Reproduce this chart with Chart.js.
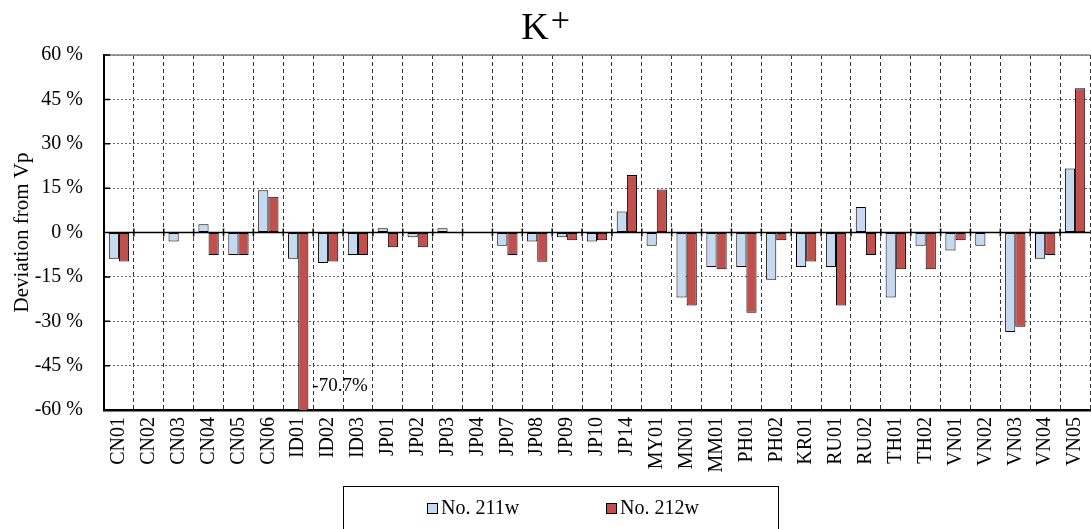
<!DOCTYPE html>
<html>
<head>
<meta charset="utf-8">
<script src="https://cdn.jsdelivr.net/npm/chart.js@4.4.0/dist/chart.umd.min.js"></script>
<style>
    html, body { margin: 0; padding: 0; background: #ffffff; }
    #wrap { width: 1091px; height: 529px; }
</style>
</head>
<body>
<div id="wrap"><canvas id="myChart"></canvas></div>
<script>
//******************************DATA*************************************** */

var categories = ['CN01', 'CN02', 'CN03', 'CN04', 'CN05', 'CN06', 'ID01', 'ID02', 'ID03',
    'JP01', 'JP02', 'JP03', 'JP04', 'JP07', 'JP08', 'JP09', 'JP10', 'JP14',
    'MY01', 'MN01', 'MM01', 'PH01', 'PH02', 'KR01', 'RU01', 'RU02', 'TH01', 'TH02',
    'VN01', 'VN02', 'VN03', 'VN04', 'VN05'];

var no211w = [-8.9, null, -3.0, 2.8, -7.6, 14.3, -8.9, -10.3, -7.6,
    1.4, -1.6, 1.4, null, -4.5, -3.0, -1.6, -3.0, 7.1,
    -4.5, -22.0, -11.7, -11.7, -16.0, -11.7, -11.7, 8.6, -22.0, -4.5,
    -6.1, -4.5, -33.6, -8.9, 21.6];

var no212w = [-9.8, null, null, -7.6, -7.6, 12.1, -70.7, -9.8, -7.6,
    -5.0, -5.0, null, null, -7.6, -9.9, -2.6, -2.6, 19.4,
    14.5, -24.7, -12.4, -27.1, -2.6, -9.8, -24.7, -7.6, -12.4, -12.4,
    -2.6, null, -31.9, -7.6, 48.8];

var yTicks = [-60, -45, -30, -15, 0, 15, 30, 45, 60];

var seriesNames = ['No. 211w', 'No. 212w'];
var seriesColors = ['#c6d9f1', '#c0504d'];
var titleText = ['K', '+'];

var serif = "'Liberation Serif', 'Times New Roman', serif";

///*********************************PLUGINS*********************************** */

// title K with a raised plus
var titlePlugin = {
    id: 'ionTitle',
    afterDraw: function (chart) {
        var ctx = chart.ctx;
        ctx.save();
        ctx.fillStyle = '#000';
        ctx.textBaseline = 'alphabetic';
        ctx.textAlign = 'left';
        ctx.font = '38px ' + serif;
        var wK = ctx.measureText(titleText[0]).width;
        ctx.font = '34px ' + serif;
        var wP = ctx.measureText(titleText[1]).width;
        var x0 = chart.width / 2 - (wK + wP + 2) / 2;
        ctx.font = '38px ' + serif;
        ctx.fillText(titleText[0], x0, 39);
        ctx.font = '34px ' + serif;
        ctx.fillText(titleText[1], x0 + wK + 2, 31);
        ctx.restore();
    }
};

// zero line, small tick marks, top edge and the label of the clipped bar
var framePlugin = {
    id: 'frame',
    afterDatasetsDraw: function (chart) {
        var ctx = chart.ctx;
        var a = chart.chartArea;
        var y = chart.scales.y;
        var y0 = y.getPixelForValue(0);
        var n = categories.length;

        ctx.save();
        ctx.strokeStyle = '#808080';
        ctx.lineWidth = 1.5;
        ctx.beginPath();
        ctx.moveTo(a.left, a.top);
        ctx.lineTo(a.right, a.top);
        ctx.stroke();

        ctx.strokeStyle = '#000';
        ctx.lineWidth = 1.5;
        ctx.beginPath();
        ctx.moveTo(a.left, y0);
        ctx.lineTo(a.right, y0);
        for (var i = 1; i < n; i++) {
            var px = a.left + (a.right - a.left) * i / n;
            ctx.moveTo(px, y0 - 4);
            ctx.lineTo(px, y0 + 4);
        }
        yTicks.forEach(function (v) {
            var py = y.getPixelForValue(v);
            ctx.moveTo(a.left, py);
            ctx.lineTo(a.left + 6, py);
        });
        ctx.stroke();

        // values below the axis minimum get written next to the bar
        ctx.fillStyle = '#000';
        ctx.font = '19px ' + serif;
        ctx.textAlign = 'left';
        ctx.textBaseline = 'middle';
        chart.data.datasets.forEach(function (ds, d) {
            var meta = chart.getDatasetMeta(d);
            ds.data.forEach(function (v, i) {
                if (v !== null && v < y.min) {
                    var bar = meta.data[i];
                    ctx.fillText(v.toFixed(1) + '%', bar.x + bar.width / 2 + 4, a.bottom - 24);
                }
            });
        });
        ctx.restore();
    }
};

// boxed legend under the axis
var legendPlugin = {
    id: 'boxLegend',
    afterDraw: function (chart) {
        var ctx = chart.ctx;
        var left = 343, top = 486, right = 778;
        var offsets = [84, 263];
        ctx.save();
        ctx.strokeStyle = '#000';
        ctx.lineWidth = 1;
        ctx.strokeRect(left + 0.5, top + 0.5, right - left, 60);
        ctx.font = '20px ' + serif;
        ctx.textBaseline = 'middle';
        ctx.textAlign = 'left';
        chart.data.datasets.forEach(function (ds, d) {
            var bx = left + offsets[d];
            ctx.fillStyle = ds.backgroundColor;
            ctx.fillRect(bx, 503, 10, 10);
            ctx.strokeStyle = '#000';
            ctx.strokeRect(bx + 0.5, 503.5, 10, 10);
            ctx.fillStyle = '#000';
            ctx.fillText(ds.label, bx + 14, 509);
        });
        ctx.restore();
    }
};

///*********************************CHARTJS*********************************** */

Chart.defaults.color = '#000';
Chart.defaults.font.family = serif;

var ctx = document.getElementById('myChart').getContext('2d');
var chart = new Chart(ctx, {
    type: 'bar',
    data: {
        labels: categories,
        datasets: [{
            label: seriesNames[0],
            data: no211w,
            backgroundColor: seriesColors[0],
            borderColor: '#000',
            borderWidth: 1,
            borderSkipped: false
        }, {
            label: seriesNames[1],
            data: no212w,
            backgroundColor: seriesColors[1],
            borderColor: '#000',
            borderWidth: 1,
            borderSkipped: false
        }]
    },
    options: {
        responsive: true,
        maintainAspectRatio: false,
        animation: false,
        categoryPercentage: 0.68,
        barPercentage: 1.0,
        layout: {
            padding: { left: 0, right: 1, top: 55, bottom: 43 }
        },
        plugins: {
            legend: { display: false },
            tooltip: { enabled: false },
            title: { display: false }
        },
        scales: {
            x: {
                grid: { color: '#333', lineWidth: 1, drawTicks: false },
                border: { display: true, color: '#000', width: 2.5, dash: [4, 3] },
                ticks: {
                    font: { size: 20 },
                    minRotation: 90,
                    maxRotation: 90,
                    padding: 7,
                    autoSkip: false
                },
                afterFit: function (s) {
                    s.height = 76;
                    s.paddingLeft = 0;
                    s.paddingRight = 0;
                }
            },
            y: {
                min: -60,
                max: 60,
                afterBuildTicks: function (s) {
                    s.ticks = yTicks.map(function (v) { return { value: v }; });
                },
                grid: { color: '#666', lineWidth: 1, drawTicks: false },
                border: { display: true, color: '#000', width: 2, dash: [2, 2] },
                ticks: {
                    font: { size: 20 },
                    padding: 21,
                    callback: function (v) { return v + ' %'; }
                },
                title: {
                    display: true,
                    text: 'Deviation from Vp',
                    font: { size: 21 },
                    padding: { top: 10, bottom: 0 }
                },
                afterFit: function (s) {
                    s.width = 104;
                    s.paddingTop = 0;
                    s.paddingBottom = 0;
                }
            }
        }
    },
    plugins: [titlePlugin, framePlugin, legendPlugin]
});
</script>
</body>
</html>
